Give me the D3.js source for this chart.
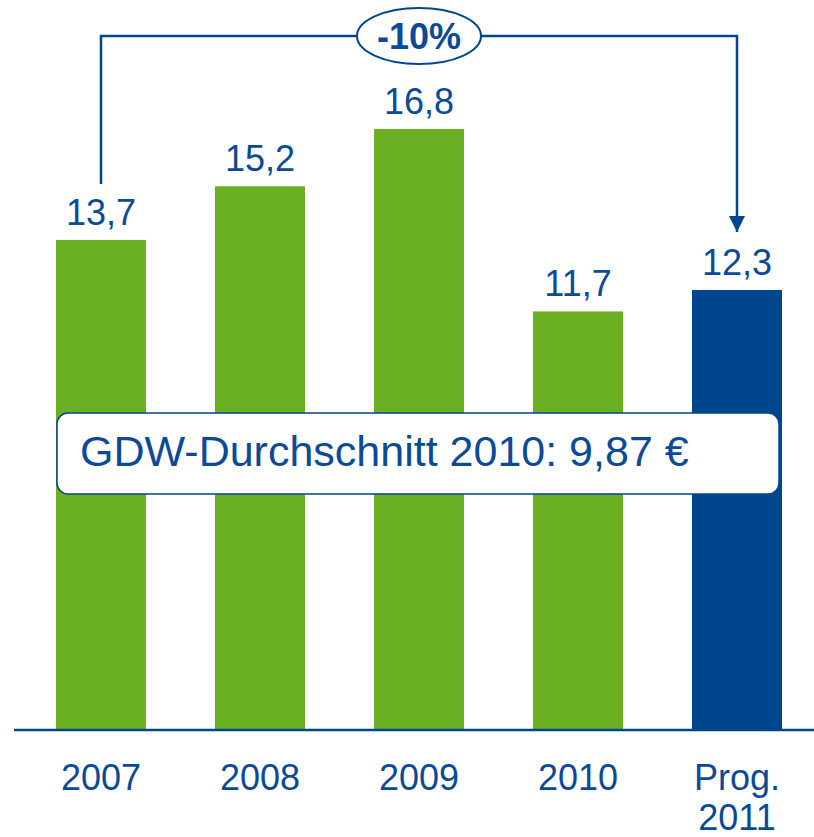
<!DOCTYPE html>
<html lang="de">
<head>
    <meta charset="UTF-8">
    <title>GDW</title>
    <script src="https://d3js.org/d3.v7.min.js"></script>
    <style>
        body { margin: 0; background: #fff; }
        svg { display: block; font-family: "Liberation Sans", Arial, sans-serif; }
    </style>
</head>
<body>
    <svg class="chart" width="814" height="837"></svg>
    <script>
    // Daten
    const categories = ["2007", "2008", "2009", "2010", "Prog. 2011"]
    const values = [13.7, 15.2, 16.8, 11.7, 12.3]
    const valueLabels = ["13,7", "15,2", "16,8", "11,7", "12,3"]
    const changeLabel = "-10%"
    const noteText = "GDW-Durchschnitt 2010: 9,87 €"

    const green = "#6bb023"
    const blue = "#00468f"
    const textBlue = "#0b4a97"

    const svg = d3.select(".chart")

    // Skalen
    const x = d3.scaleBand()
        .domain(categories)
        .range([21.5, 816.5])
        .paddingInner(0.434)
        .paddingOuter(0.217)

    const y = d3.scaleLinear()
        .domain([0, 16.8])
        .range([730, 129])

    // Balken
    svg.append("g")
        .selectAll("rect")
        .data(values)
        .enter()
        .append("rect")
        .attr("x", (d, i) => x(categories[i]))
        .attr("y", d => y(d))
        .attr("width", x.bandwidth())
        .attr("height", d => y(0) - y(d))
        .style("fill", (d, i) => i === values.length - 1 ? blue : green)

    // Werte über den Balken
    svg.append("g")
        .selectAll("text")
        .data(values)
        .enter()
        .append("text")
        .attr("x", (d, i) => x(categories[i]) + x.bandwidth() / 2)
        .attr("y", d => y(d) - 15)
        .attr("text-anchor", "middle")
        .style("font-size", "36px")
        .style("fill", textBlue)
        .text((d, i) => valueLabels[i])

    // x-Achse
    const xAxis = svg.append("g")
        .attr("transform", `translate(0,${y(0)})`)
        .call(d3.axisBottom(x).tickSize(0).tickPadding(0))
    xAxis.select(".domain").remove()
    xAxis.append("line")
        .attr("x1", 14).attr("x2", 814)
        .attr("stroke", blue).attr("stroke-width", 2.5)
    xAxis.selectAll(".tick text").each(function(d) {
        const t = d3.select(this)
        const parts = d.split(" ")
        t.text(null)
            .attr("y", 0)
            .attr("dy", null)
            .style("font-size", "36px")
            .style("font-family", "'Liberation Sans', Arial, sans-serif")
            .style("fill", textBlue)
        parts.forEach((p, k) => {
            t.append("tspan").attr("x", 0).attr("y", 60 + k * 40).text(p)
        })
    })

    // Klammer mit Pfeil (-10%)
    const xa = x(categories[0]) + x.bandwidth() / 2
    const xb = x(categories[4]) + x.bandwidth() / 2
    const yTop = 36
    const yStart = y(values[0]) - 56
    const yEnd = y(values[4]) - 58

    svg.append("defs").append("marker")
        .attr("id", "arrow")
        .attr("viewBox", "0 0 16 16")
        .attr("refX", 16).attr("refY", 8)
        .attr("markerWidth", 16).attr("markerHeight", 16)
        .attr("markerUnits", "userSpaceOnUse")
        .attr("orient", "auto")
        .append("path")
        .attr("d", "M0,0 L16,8 L0,16 Z")
        .style("fill", blue)

    svg.append("path")
        .attr("d", `M${xa},${yStart} V${yTop} H${xb} V${yEnd}`)
        .attr("fill", "none")
        .attr("stroke", blue)
        .attr("stroke-width", 2.5)
        .attr("marker-end", "url(#arrow)")

    const cx = (xa + xb) / 2
    svg.append("ellipse")
        .attr("cx", cx).attr("cy", yTop)
        .attr("rx", 62).attr("ry", 28)
        .style("fill", "#fff")
        .style("stroke", blue)
        .style("stroke-width", 2)
    svg.append("text")
        .attr("x", cx).attr("y", yTop + 13)
        .attr("text-anchor", "middle")
        .style("font-size", "36px")
        .style("font-weight", "bold")
        .style("fill", textBlue)
        .text(changeLabel)

    // Hinweisbox
    svg.append("rect")
        .attr("x", 57).attr("y", 413)
        .attr("width", 722).attr("height", 81)
        .attr("rx", 11)
        .style("fill", "#fff")
        .style("stroke", blue)
        .style("stroke-width", 1.5)
    svg.append("text")
        .attr("x", 80).attr("y", 466)
        .style("font-size", "43px")
        .style("fill", textBlue)
        .text(noteText)
    </script>
</body>
</html>
